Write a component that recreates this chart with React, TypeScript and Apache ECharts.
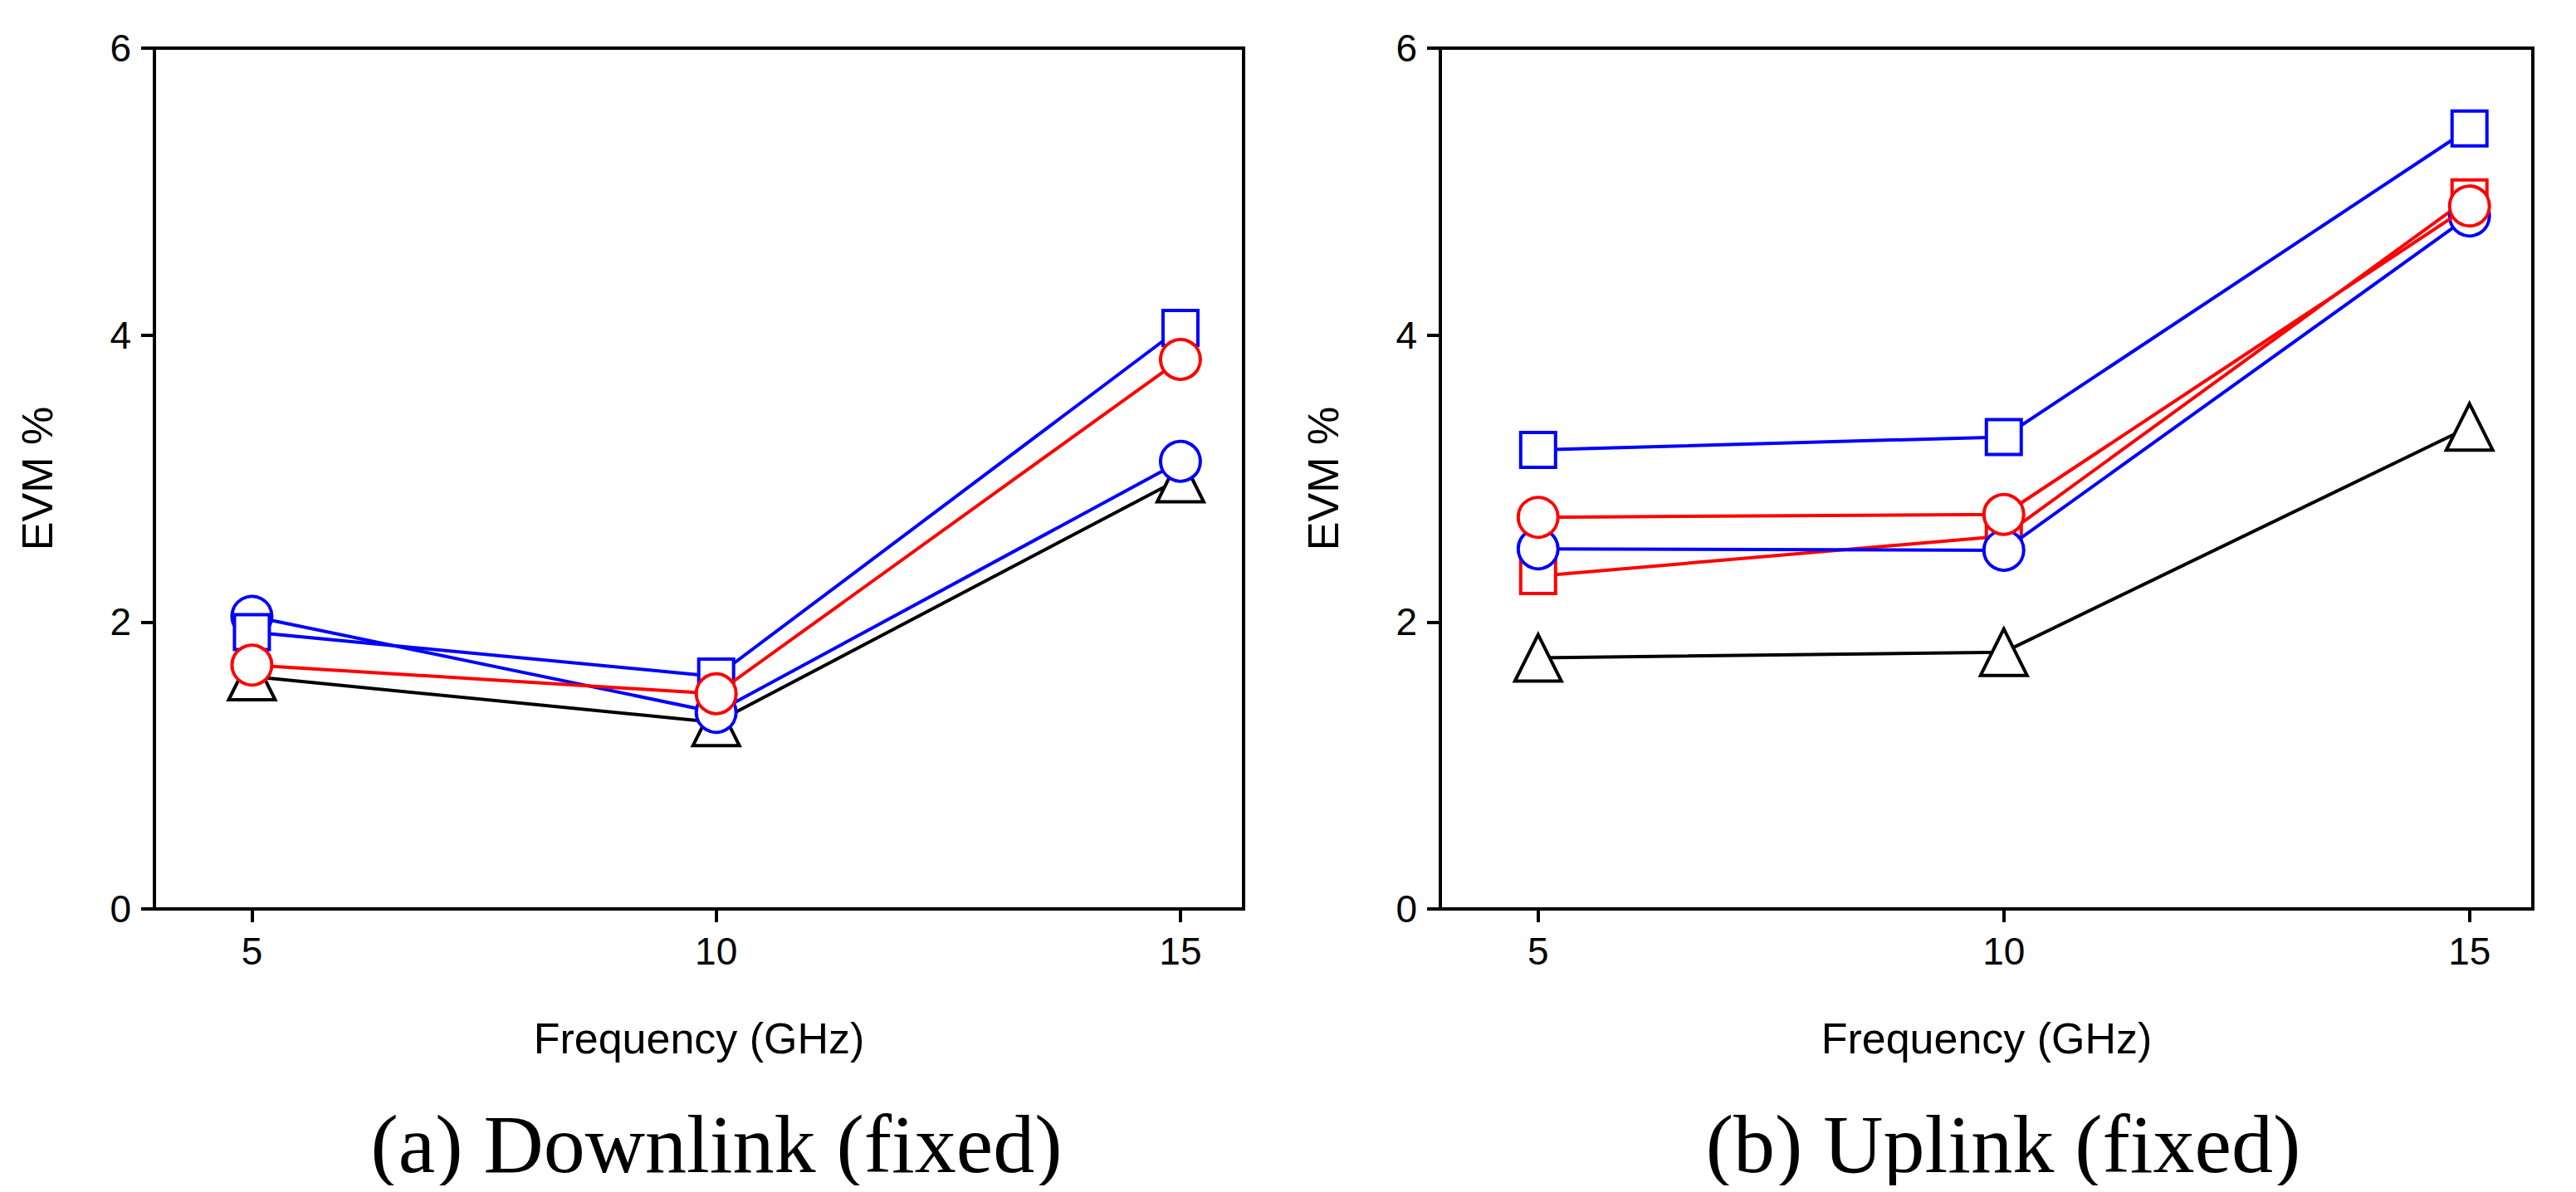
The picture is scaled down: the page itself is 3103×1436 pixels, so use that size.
import React, { useEffect, useRef } from "react";
import * as echarts from "echarts";

const freqs = [5, 10, 15];
const downBlueSquare = [1.93, 1.62, 4.05];
const downBlueCircle = [2.04, 1.37, 3.12];
const downRedCircle = [1.7, 1.5, 3.83];
const downBlackTriangle = [1.62, 1.3, 3.0];

const upBlueSquare = [3.2, 3.29, 5.44];
const upRedSquare = [2.32, 2.6, 4.96];
const upBlueCircle = [2.51, 2.5, 4.83];
const upRedCircle = [2.73, 2.75, 4.9];
const upBlackTriangle = [1.75, 1.79, 3.36];

const captions = ["(a) Downlink (fixed)", "(b) Uplink (fixed)"];

export default function App() {
  const ref = useRef<HTMLDivElement>(null);
  useEffect(() => {
    const chart = echarts.init(ref.current!, null, { renderer: "svg" });
    const font = "Liberation Sans, Arial";
    const mk = (idx: number, vals: number[], color: string, symbol: string, size: number, z: number) => ({
      type: "line",
      xAxisIndex: idx,
      yAxisIndex: idx,
      data: freqs.map((f, i) => [f, vals[i]]),
      symbol,
      symbolSize: size,
      z,
      lineStyle: { color, width: 4 },
      itemStyle: { color: "#fff", borderColor: color, borderWidth: 4 },
    });
    const xa = (idx: number) => ({
      type: "value",
      gridIndex: idx,
      min: 3.95,
      max: 15.68,
      name: "Frequency (GHz)",
      nameLocation: "middle",
      nameGap: 130,
      nameTextStyle: { fontFamily: font, fontSize: 52, color: "#000" },
      axisLine: { show: true, lineStyle: { color: "#000", width: 4 } },
      axisTick: { show: true, inside: false, length: 16, lineStyle: { width: 4, color: "#000" }, customValues: freqs },
      axisLabel: { customValues: freqs, fontFamily: font, fontSize: 46, color: "#000", margin: 28 },
      splitLine: { show: false },
    });
    const ya = (idx: number) => ({
      type: "value",
      gridIndex: idx,
      min: 0,
      max: 6,
      interval: 2,
      name: "EVM %",
      nameLocation: "middle",
      nameGap: 115,
      nameTextStyle: { fontFamily: font, fontSize: 52, color: "#000" },
      axisLine: { show: true, lineStyle: { color: "#000", width: 4 } },
      axisTick: { show: true, inside: false, length: 16, lineStyle: { width: 4, color: "#000" } },
      axisLabel: { fontFamily: font, fontSize: 46, color: "#000", margin: 28 },
      splitLine: { show: false },
    });
    const cap = { fontFamily: "Liberation Serif, Times New Roman", fontSize: 100, fontWeight: "normal", color: "#000" };
    chart.setOption({
      animation: false,
      backgroundColor: "#fff",
      grid: [
        { left: 178, width: 1312, top: 50, height: 1037, show: true, borderColor: "#000", borderWidth: 4 },
        { left: 1727, width: 1316, top: 50, height: 1037, show: true, borderColor: "#000", borderWidth: 4 },
      ],
      title: [
        { text: captions[0], left: 850, textAlign: "center", top: 1315, textStyle: cap },
        { text: captions[1], left: 2400, textAlign: "center", top: 1315, textStyle: cap },
      ],
      xAxis: [xa(0), xa(1)],
      yAxis: [ya(0), ya(1)],
      series: [
        mk(0, downBlackTriangle, "#000", "triangle", 56, 2),
        mk(0, downBlueCircle, "#0000ff", "circle", 48, 3),
        mk(0, downBlueSquare, "#0000ff", "rect", 42, 5),
        mk(0, downRedCircle, "#ff0000", "circle", 48, 6),
        mk(1, upBlackTriangle, "#000", "triangle", 56, 2),
        mk(1, upRedSquare, "#ff0000", "rect", 42, 3),
        mk(1, upBlueCircle, "#0000ff", "circle", 48, 4),
        mk(1, upRedCircle, "#ff0000", "circle", 48, 5),
        mk(1, upBlueSquare, "#0000ff", "rect", 42, 6),
      ],
    });
    return () => chart.dispose();
  }, []);
  return <div ref={ref} style={{ width: 3087, height: 1420 }} />;
}
